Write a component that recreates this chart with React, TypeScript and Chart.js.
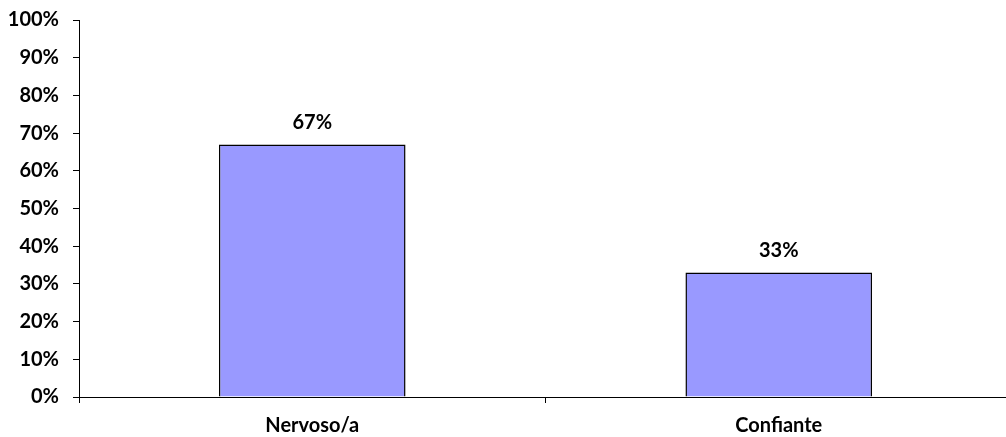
import React, { useEffect, useRef } from "react";
import { Chart, registerables } from "chart.js";

Chart.register(...registerables);

const categories = ["Nervoso/a", "Confiante"];
const percentages = [67, 33];
const yTicks = [0, 10, 20, 30, 40, 50, 60, 70, 80, 90, 100];

const FONT = "Lato, 'Open Sans', sans-serif";

const valueLabels = {
  id: "valueLabels",
  afterDatasetsDraw(chart: any) {
    const ctx = chart.ctx;
    const meta = chart.getDatasetMeta(0);
    ctx.save();
    ctx.font = `bold 20px ${FONT}`;
    ctx.fillStyle = "#000";
    ctx.textAlign = "center";
    ctx.textBaseline = "middle";
    meta.data.forEach((bar: any, i: number) => {
      ctx.fillText(`${percentages[i]}%`, bar.x, bar.y - 22);
    });
    ctx.restore();
  },
};

export default function App() {
  const ref = useRef<HTMLCanvasElement>(null);

  useEffect(() => {
    if (!ref.current) return;
    const chart = new Chart(ref.current, {
      type: "bar",
      data: {
        labels: categories,
        datasets: [
          {
            data: percentages,
            backgroundColor: "#9999FF",
            borderColor: "#000",
            borderWidth: 1.5,
            barPercentage: 0.4,
            categoryPercentage: 1,
          },
        ],
      },
      options: {
        responsive: false,
        animation: false,
        layout: { padding: { top: 20, left: 0, right: 0, bottom: 0 } },
        plugins: {
          legend: { display: false },
          tooltip: { enabled: false },
        },
        scales: {
          x: {
            offset: true,
            grid: {
              offset: true,
              drawOnChartArea: false,
              tickLength: 6,
              color: "#000",
            },
            border: { color: "#000", width: 1 },
            ticks: {
              color: "#000",
              font: { family: FONT, size: 20, weight: "bold" },
              padding: 11,
            },
            afterFit(scale: any) {
              scale.height = 40;
              scale.paddingLeft = 0;
              scale.paddingRight = 0;
            },
          },
          y: {
            min: 0,
            max: 100,
            afterBuildTicks(scale: any) {
              scale.ticks = yTicks.map((v) => ({ value: v }));
            },
            grid: {
              drawOnChartArea: false,
              tickLength: 6,
              color: "#000",
            },
            border: { color: "#000", width: 1 },
            ticks: {
              color: "#000",
              font: { family: FONT, size: 20, weight: "bold" },
              padding: 14,
              callback: (v: any) => `${v}%`,
            },
            afterFit(scale: any) {
              scale.width = 79;
              scale.paddingTop = 0;
              scale.paddingBottom = 0;
            },
          },
        },
      },
      plugins: [valueLabels],
    });
    return () => chart.destroy();
  }, []);

  return (
    <div
      style={{
        position: "fixed",
        left: 0,
        top: 0,
        width: 1006,
        height: 437,
        overflow: "hidden",
        background: "#fff",
      }}
    >
      <canvas ref={ref} width={1012} height={437} style={{ display: "block" }} />
    </div>
  );
}
